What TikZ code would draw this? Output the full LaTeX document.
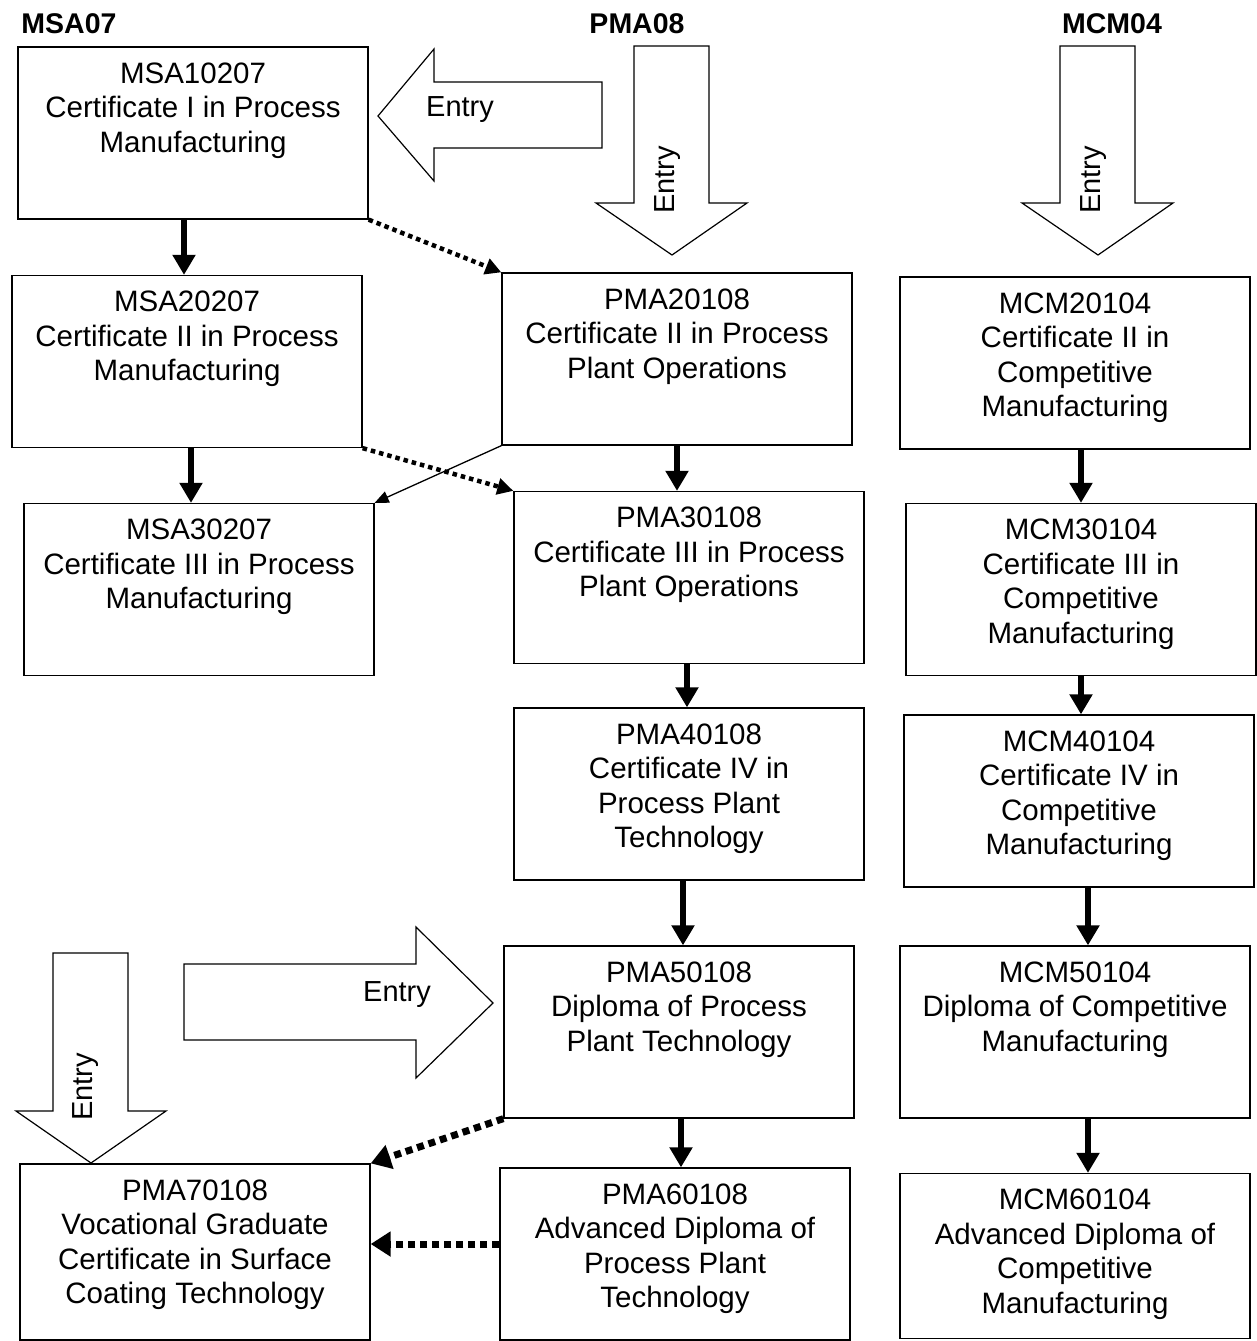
\documentclass[tikz,border=0pt]{standalone}
\usepackage{fontspec}
\setmainfont{Liberation Sans}
\usetikzlibrary{arrows.meta}
\newcommand\boxtxt[2][172pt]{\parbox[c][#1][t]{350pt}{\centering\rule{0pt}{36pt}\ignorespaces#2}}
\begin{document}
\begin{tikzpicture}[x=1pt,y=-1pt,
  box/.style={draw, line width=1.3pt, inner sep=0pt, font=\fontsize{29.5}{34.5}\selectfont},
  head/.style={font=\fontsize{28.5}{32}\selectfont\bfseries, inner sep=0pt},
  entrytxt/.style={font=\fontsize{29}{32}\selectfont, inner sep=0pt},
  blockarrow/.style={draw, fill=white, line width=1.2pt, line join=miter},
  thickarrow/.style={line width=5.5pt, -{Triangle[width=22pt,length=20pt]}},
  dotarrow/.style={line width=4.5pt, dash pattern=on 4.5pt off 4pt, -{Triangle[width=16pt,length=16pt]}},
  bigdotarrow/.style={line width=7pt, dash pattern=on 7pt off 5pt, -{Triangle[width=24pt,length=20pt]}},
  thinarrow/.style={line width=1.3pt, -{Triangle[width=12pt,length=14pt]}}
]
\fill[white] (0,0) rectangle (1257,1341);
\useasboundingbox (0,0) rectangle (1257,1341);

% headers
\node[head] (hmsa) at (69,24) {MSA07};
\node[head] (hpma) at (637,24) {PMA08};
\node[head] (hmcm) at (1112,24) {MCM04};

% block arrows
\draw[blockarrow] (378,116) -- (434,49) -- (434,82) -- (602,82) -- (602,148) -- (434,148) -- (434,181) -- cycle;
\node[entrytxt] (e1) at (460,110) {Entry};
\draw[blockarrow] (634,46) -- (709,46) -- (709,203) -- (747,203) -- (672,255) -- (596,203) -- (634,203) -- cycle;
\node[entrytxt, rotate=90] (e2) at (668,180) {Entry};
\draw[blockarrow] (1060,46) -- (1135,46) -- (1135,203) -- (1173,203) -- (1098,255) -- (1022,203) -- (1060,203) -- cycle;
\node[entrytxt, rotate=90] (e3) at (1094,180) {Entry};
\draw[blockarrow] (184,964) -- (416,964) -- (416,927) -- (493,1003) -- (416,1078) -- (416,1040) -- (184,1040) -- cycle;
\node[entrytxt] (e4) at (397,995) {Entry};
\draw[blockarrow] (53,953) -- (128,953) -- (128,1111) -- (166,1111) -- (91,1163) -- (16,1111) -- (53,1111) -- cycle;
\node[entrytxt, rotate=90] (e5) at (86,1087) {Entry};

% boxes
\node[box] (msa1) at (193,133) {\boxtxt{MSA10207\\Certificate I in Process\\Manufacturing}};
\node[box] (msa2) at (187,361.5) {\boxtxt{MSA20207\\Certificate II in Process\\Manufacturing}};
\node[box] (msa3) at (199,589.5) {\boxtxt{MSA30207\\Certificate III in Process\\Manufacturing}};
\node[box] (pma2) at (677,359) {\boxtxt{PMA20108\\Certificate II in Process\\Plant Operations}};
\node[box] (pma3) at (689,577.5) {\boxtxt{PMA30108\\Certificate III in Process\\Plant Operations}};
\node[box] (pma4) at (689,794) {\boxtxt{PMA40108\\Certificate IV in\\Process Plant\\Technology}};
\node[box] (pma5) at (679,1032) {\boxtxt{PMA50108\\Diploma of Process\\Plant Technology}};
\node[box] (pma6) at (675,1254) {\boxtxt{PMA60108\\Advanced Diploma of\\Process Plant\\Technology}};
\node[box] (pma7) at (195,1252) {\boxtxt[176pt]{PMA70108\\Vocational Graduate\\Certificate in Surface\\Coating Technology}};
\node[box] (mcm2) at (1075,363) {\boxtxt{MCM20104\\Certificate II in\\Competitive\\Manufacturing}};
\node[box] (mcm3) at (1081,589.5) {\boxtxt{MCM30104\\Certificate III in\\Competitive\\Manufacturing}};
\node[box] (mcm4) at (1079,801) {\boxtxt{MCM40104\\Certificate IV in\\Competitive\\Manufacturing}};
\node[box] (mcm5) at (1075,1032) {\boxtxt{MCM50104\\Diploma of Competitive\\Manufacturing}};
\node[box] (mcm6) at (1075,1256) {\boxtxt[165pt]{MCM60104\\Advanced Diploma of\\Competitive\\Manufacturing}};

% thick arrows
\draw[thickarrow] ([xshift=-9pt]msa1.south) -- ([xshift=-3pt]msa2.north);
\draw[thickarrow] ([xshift=4pt]msa2.south) -- ([xshift=-8pt]msa3.north);
\draw[thickarrow] (pma2.south) -- ([xshift=-12pt]pma3.north);
\draw[thickarrow] ([xshift=-2pt]pma3.south) -- ([xshift=-2pt]pma4.north);
\draw[thickarrow] ([xshift=-6pt]pma4.south) -- ([xshift=4pt]pma5.north);
\draw[thickarrow] ([xshift=2pt]pma5.south) -- ([xshift=6pt]pma6.north);
\draw[thickarrow] ([xshift=6pt]mcm2.south) -- (mcm3.north);
\draw[thickarrow] (mcm3.south) -- ([xshift=2pt]mcm4.north);
\draw[thickarrow] ([xshift=9pt]mcm4.south) -- ([xshift=13pt]mcm5.north);
\draw[thickarrow] ([xshift=13pt]mcm5.south) -- ([xshift=13pt]mcm6.north);

% dotted and thin arrows
\draw[dotarrow] (msa1.south east) -- (pma2.north west);
\draw[dotarrow] (msa2.south east) -- (pma3.north west);
\draw[thinarrow] (pma2.south west) -- (msa3.north east);
\draw[bigdotarrow] (pma5.south west) -- (pma7.north east);
\draw[bigdotarrow] ([yshift=10pt]pma6.west) -- ([yshift=8pt]pma7.east);
\end{tikzpicture}
\end{document}
